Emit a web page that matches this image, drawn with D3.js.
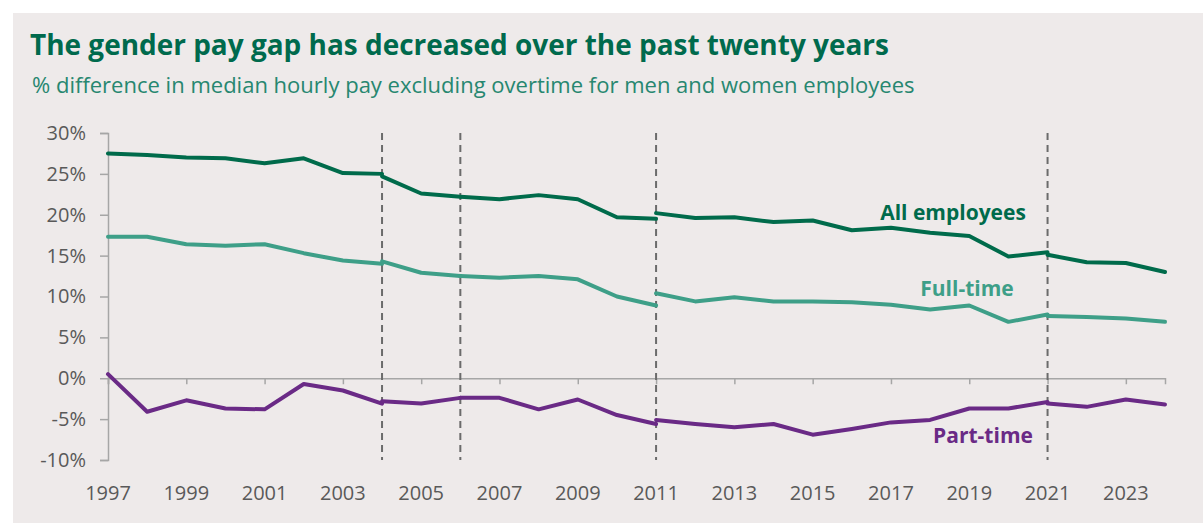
<!DOCTYPE html>
<html><head><meta charset="utf-8">
<script src="https://cdn.jsdelivr.net/npm/d3@7"></script>
<style>
html,body{margin:0;padding:0;background:#fff;}
svg{display:block;}
</style></head>
<body>
<svg id="chart" width="1203" height="523"></svg>
<script>
// ---- data ----
const years = [1997,1998,1999,2000,2001,2002,2003,2004,2005,2006,2007,2008,2009,2010,2011,2012,2013,2014,2015,2016,2017,2018,2019,2020,2021,2022,2023,2024];
const breakYears = [2004, 2006, 2011, 2021];
// values at each year (at break years: value ending the earlier series)
const allEmployees = [27.5,27.3,27.0,26.9,26.3,26.9,25.1,25.0,22.6,22.2,21.9,22.4,21.9,19.7,19.5,19.6,19.7,19.1,19.3,18.1,18.4,17.8,17.4,14.9,15.4,14.2,14.1,13.0];
const fullTime     = [17.3,17.3,16.4,16.2,16.4,15.3,14.4,14.0,12.9,12.5,12.3,12.5,12.1,10.0,8.9,9.4,9.9,9.4,9.4,9.3,9.0,8.4,8.9,6.9,7.8,7.5,7.3,6.9];
const partTime     = [0.5,-4.1,-2.7,-3.7,-3.8,-0.7,-1.5,-3.1,-3.1,-2.4,-2.4,-3.8,-2.6,-4.5,-5.6,-5.6,-6.0,-5.6,-6.9,-6.2,-5.4,-5.1,-3.7,-3.7,-2.9,-3.5,-2.6,-3.2];
// values starting the new series at each break year
const allEmployeesNew = [24.7, 22.2, 20.2, 15.1];
const fullTimeNew     = [14.3, 12.5, 10.4, 7.6];
const partTimeNew     = [-2.8, -2.4, -5.1, -3.1];
const yTicks = [-10,-5,0,5,10,15,20,25,30];
const xTickYears = [1997,1999,2001,2003,2005,2007,2009,2011,2013,2015,2017,2019,2021,2023];
const seriesNames = ["All employees","Full-time","Part-time"];
const seriesColors = ["#006b4b","#3e9f88","#6a2a86"];
const title = "The gender pay gap has decreased over the past twenty years";
const subtitle = "% difference in median hourly pay excluding overtime for men and women employees";

// ---- layout ----
const svg = d3.select("#chart");
const W = 1203, H = 523;
svg.append("rect").attr("x",13).attr("y",13).attr("width",W-13).attr("height",H-13).attr("fill","#eeeaea");

const x = d3.scaleLinear().domain([1997,2024]).range([108,1165]);
const y = d3.scaleLinear().domain([-10,30]).range([460,133]);

function fitText(sel, target){
  const w = sel.node().getComputedTextLength();
  const fs = parseFloat(sel.attr("font-size"));
  sel.attr("font-size", (fs*target/w).toFixed(2));
}
const t = svg.append("text").attr("x",30).attr("y",55).attr("font-family","'Open Sans', sans-serif")
  .attr("font-weight",700).attr("font-size",24).attr("fill","#006a4d").text(title);
fitText(t, 859);
const st = svg.append("text").attr("x",32).attr("y",93).attr("font-family","'Open Sans', sans-serif")
  .attr("font-size",19).attr("fill","#278770").text(subtitle);
fitText(st, 883);

const axisColor = "#a6a6a6";
const labelColor = "#595959";
const font = "'Open Sans', sans-serif";

// y axis
const yAxis = svg.append("g").attr("transform",`translate(${x(1997)},0)`)
  .call(d3.axisLeft(y).tickValues(yTicks).tickSize(8).tickPadding(14).tickFormat(d=>d+"%"));
yAxis.select(".domain").attr("stroke",axisColor).attr("stroke-width",1.5);
yAxis.selectAll(".tick line").attr("stroke",axisColor).attr("stroke-width",1.5);
yAxis.selectAll(".tick text").attr("font-family",font).attr("font-size",20).attr("fill",labelColor);

// x axis at 0
const xAxis = svg.append("g").attr("transform",`translate(0,${y(0)})`)
  .call(d3.axisBottom(x).tickValues(xTickYears).tickSize(6).tickFormat(""));
xAxis.select(".domain").attr("stroke",axisColor).attr("stroke-width",1.5);
xAxis.selectAll(".tick line").attr("stroke",axisColor).attr("stroke-width",1.5);
// year labels at bottom
svg.append("g").selectAll("text").data(xTickYears).join("text")
  .attr("x",d=>x(d)).attr("y",500).attr("text-anchor","middle")
  .attr("font-family",font).attr("font-size",20).attr("fill",labelColor).text(d=>d);

// dashed break lines
svg.append("g").selectAll("line").data(breakYears).join("line")
  .attr("x1",d=>x(d)).attr("x2",d=>x(d)).attr("y1",y(30)).attr("y2",y(-10))
  .attr("stroke","#6b6b6b").attr("stroke-width",2).attr("stroke-dasharray","7,5");

// build segments
function segments(vals, newVals){
  const segs = [];
  let cur = [];
  years.forEach((yr,i)=>{
    cur.push([yr, vals[i]]);
    const bi = breakYears.indexOf(yr);
    if (bi >= 0){
      segs.push(cur);
      cur = [[yr, newVals[bi]]];
    }
  });
  segs.push(cur);
  return segs;
}
const allSeries = [
  segments(allEmployees, allEmployeesNew),
  segments(fullTime, fullTimeNew),
  segments(partTime, partTimeNew)
];
const line = d3.line().x(d=>x(d[0])).y(d=>y(d[1]));
allSeries.forEach((segs,si)=>{
  svg.append("g").selectAll("path").data(segs).join("path")
    .attr("d",line).attr("fill","none").attr("stroke",seriesColors[si])
    .attr("stroke-width",4).attr("stroke-linejoin","round").attr("stroke-linecap","round");
});

// series labels
const labelPos = [[953,220],[967,296],[983,443]];
seriesNames.forEach((n,i)=>{
  svg.append("text").attr("x",labelPos[i][0]).attr("y",labelPos[i][1]).attr("text-anchor","middle")
    .attr("font-family",font).attr("font-weight",700).attr("font-size",21).attr("fill",seriesColors[i]).text(n);
});
</script>
</body></html>
